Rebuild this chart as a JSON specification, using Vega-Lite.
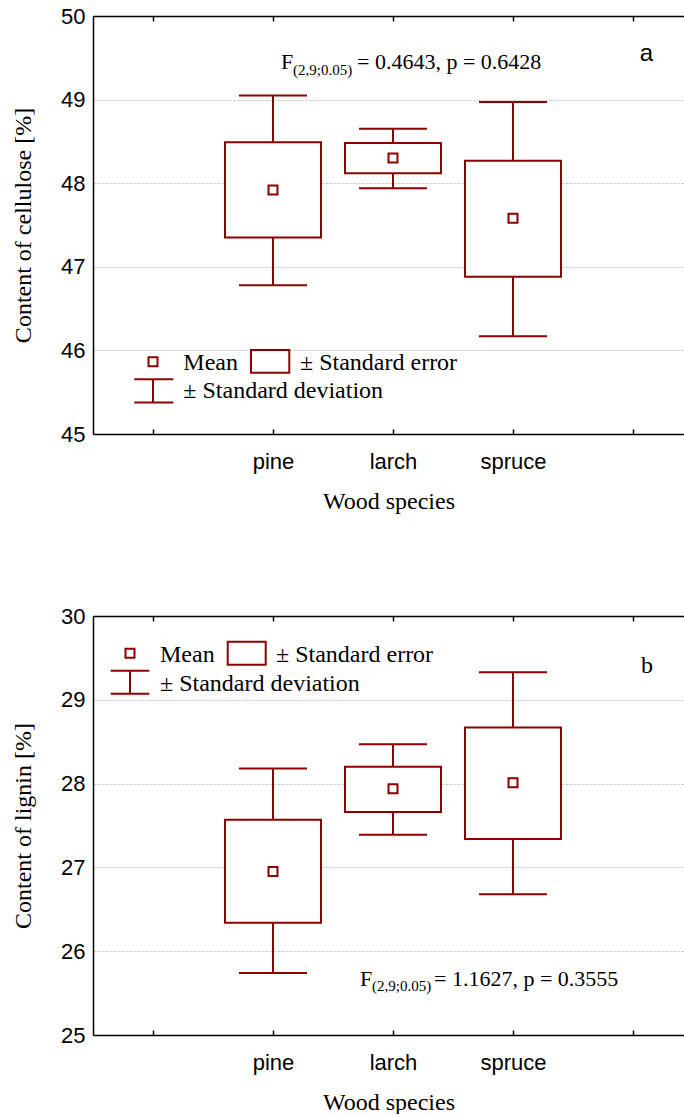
{
  "$schema": "https://vega.github.io/schema/vega-lite/v6.json",
  "padding": {"left": 11, "top": 5, "right": 0, "bottom": 0},
  "background": "white",
  "config": {
    "view": {"stroke": null},
    "axis": {"labelFont": "Liberation Sans", "labelFontSize": 22, "labelColor": "#000", "titleFont": "Liberation Serif", "titleFontSize": 24, "titleFontWeight": "normal", "titleColor": "#000", "domainColor": "#000", "domainWidth": 1.5, "tickColor": "#000", "tickWidth": 1.5},
    "axisY": {"tickCount": 5, "grid": true, "gridDash": [2, 2], "gridColor": "#bdbdbd", "gridWidth": 1, "ticks": false, "labelPadding": 8, "titlePadding": 25}
  },
  "datasets": {
    "cellulose": [
      {"species": "pine", "mean": 47.92, "se_low": 47.35, "se_high": 48.49, "sd_low": 46.78, "sd_high": 49.05},
      {"species": "larch", "mean": 48.30, "se_low": 48.12, "se_high": 48.48, "sd_low": 47.94, "sd_high": 48.65},
      {"species": "spruce", "mean": 47.58, "se_low": 46.88, "se_high": 48.27, "sd_low": 46.17, "sd_high": 48.97}
    ],
    "lignin": [
      {"species": "pine", "mean": 26.95, "se_low": 26.34, "se_high": 27.57, "sd_low": 25.74, "sd_high": 28.18},
      {"species": "larch", "mean": 27.94, "se_low": 27.66, "se_high": 28.20, "sd_low": 27.39, "sd_high": 28.47},
      {"species": "spruce", "mean": 28.01, "se_low": 27.34, "se_high": 28.67, "sd_low": 26.68, "sd_high": 29.33}
    ]
  },
  "spacing": 92,
  "vconcat": [
    {
      "width": 591,
      "height": 418,
      "resolve": {"scale": {"x": "independent"}, "axis": {"x": "independent"}},
      "layer": [
        {
          "data": {"name": "cellulose"},
          "encoding": {
            "x": {"field": "species", "type": "nominal", "scale": {"type": "point", "domain": ["_0", "pine", "larch", "spruce", "_4"], "padding": 0.4625, "align": 0.5405}, "axis": {"orient": "bottom", "labelExpr": "indexof(datum.value, '_') == 0 ? '' : datum.value", "labelAngle": 0, "tickSize": -5, "labelPadding": 22, "title": "Wood species", "titlePadding": 17, "grid": false}}
          },
          "layer": [
            {"mark": {"type": "rule", "color": "#8b0000", "strokeWidth": 2},
             "encoding": {"y": {"field": "sd_low", "type": "quantitative", "scale": {"domain": [45, 50], "nice": false, "zero": false}, "axis": {"title": "Content of cellulose [%]"}}, "y2": {"field": "sd_high"}}},
            {"mark": {"type": "tick", "color": "#8b0000", "size": 68, "thickness": 2, "opacity": 1},
             "encoding": {"y": {"field": "sd_high", "type": "quantitative"}}},
            {"mark": {"type": "tick", "color": "#8b0000", "size": 68, "thickness": 2, "opacity": 1},
             "encoding": {"y": {"field": "sd_low", "type": "quantitative"}}},
            {"mark": {"type": "bar", "width": 96, "fill": "white", "stroke": "#8b0000", "strokeWidth": 2},
             "encoding": {"y": {"field": "se_low", "type": "quantitative"}, "y2": {"field": "se_high"}}},
            {"mark": {"type": "point", "shape": "square", "size": 81, "filled": false, "color": "#8b0000", "strokeWidth": 2, "opacity": 1},
             "encoding": {"y": {"field": "mean", "type": "quantitative"}}}
          ]
        },
        {
          "data": {"values": [{}]},
          "layer": [
            {"mark": {"type": "point", "shape": "square", "size": 81, "filled": false, "color": "#8b0000", "strokeWidth": 2, "opacity": 1},
             "encoding": {"x": {"datum": 0.0, "type": "quantitative", "scale": {"domain": [-0.5, 4.425], "nice": false, "zero": false}, "axis": {"orient": "top", "values": [0, 1, 2, 3, 4], "labels": false, "tickSize": -5, "title": null, "grid": false}},
                          "y": {"datum": 45.865, "type": "quantitative", "scale": {"domain": [45, 50], "nice": false, "zero": false}}}},
            {"mark": {"type": "text", "text": "Mean", "align": "left", "baseline": "alphabetic", "font": "Liberation Serif", "fontSize": 24, "color": "#000"},
             "encoding": {"x": {"datum": 0.2525, "type": "quantitative", "scale": {"domain": [-0.5, 4.425], "nice": false, "zero": false}, "axis": {"orient": "top", "values": [0, 1, 2, 3, 4], "labels": false, "tickSize": -5, "title": null, "grid": false}},
                          "y": {"datum": 45.766, "type": "quantitative", "scale": {"domain": [45, 50], "nice": false, "zero": false}}}},
            {"mark": {"type": "rect", "fill": "white", "stroke": "#8b0000", "strokeWidth": 2},
             "encoding": {"x": {"datum": 0.8167, "type": "quantitative", "scale": {"domain": [-0.5, 4.425], "nice": false, "zero": false}, "axis": {"orient": "top", "values": [0, 1, 2, 3, 4], "labels": false, "tickSize": -5, "title": null, "grid": false}}, "x2": {"datum": 1.1358},
                          "y": {"datum": 46.005, "type": "quantitative", "scale": {"domain": [45, 50], "nice": false, "zero": false}}, "y2": {"datum": 45.733}}},
            {"mark": {"type": "text", "text": "± Standard error", "align": "left", "baseline": "alphabetic", "font": "Liberation Serif", "fontSize": 24, "color": "#000"},
             "encoding": {"x": {"datum": 1.225, "type": "quantitative", "scale": {"domain": [-0.5, 4.425], "nice": false, "zero": false}, "axis": {"orient": "top", "values": [0, 1, 2, 3, 4], "labels": false, "tickSize": -5, "title": null, "grid": false}},
                          "y": {"datum": 45.766, "type": "quantitative", "scale": {"domain": [45, 50], "nice": false, "zero": false}}}},
            {"mark": {"type": "rule", "color": "#8b0000", "strokeWidth": 2},
             "encoding": {"x": {"datum": 0.0, "type": "quantitative", "scale": {"domain": [-0.5, 4.425], "nice": false, "zero": false}, "axis": {"orient": "top", "values": [0, 1, 2, 3, 4], "labels": false, "tickSize": -5, "title": null, "grid": false}},
                          "y": {"datum": 45.654, "type": "quantitative", "scale": {"domain": [45, 50], "nice": false, "zero": false}}, "y2": {"datum": 45.378}}},
            {"mark": {"type": "rule", "color": "#8b0000", "strokeWidth": 2},
             "encoding": {"x": {"datum": -0.156, "type": "quantitative", "scale": {"domain": [-0.5, 4.425], "nice": false, "zero": false}, "axis": {"orient": "top", "values": [0, 1, 2, 3, 4], "labels": false, "tickSize": -5, "title": null, "grid": false}}, "x2": {"datum": 0.169},
                          "y": {"datum": 45.654, "type": "quantitative", "scale": {"domain": [45, 50], "nice": false, "zero": false}}}},
            {"mark": {"type": "rule", "color": "#8b0000", "strokeWidth": 2},
             "encoding": {"x": {"datum": -0.156, "type": "quantitative", "scale": {"domain": [-0.5, 4.425], "nice": false, "zero": false}, "axis": {"orient": "top", "values": [0, 1, 2, 3, 4], "labels": false, "tickSize": -5, "title": null, "grid": false}}, "x2": {"datum": 0.169},
                          "y": {"datum": 45.378, "type": "quantitative", "scale": {"domain": [45, 50], "nice": false, "zero": false}}}},
            {"mark": {"type": "text", "text": "± Standard deviation", "align": "left", "baseline": "alphabetic", "font": "Liberation Serif", "fontSize": 24, "color": "#000"},
             "encoding": {"x": {"datum": 0.2525, "type": "quantitative", "scale": {"domain": [-0.5, 4.425], "nice": false, "zero": false}, "axis": {"orient": "top", "values": [0, 1, 2, 3, 4], "labels": false, "tickSize": -5, "title": null, "grid": false}},
                          "y": {"datum": 45.427, "type": "quantitative", "scale": {"domain": [45, 50], "nice": false, "zero": false}}}},
            {"mark": {"type": "text", "text": "F", "align": "left", "baseline": "alphabetic", "font": "Liberation Serif", "fontSize": 22, "color": "#000"},
             "encoding": {"x": {"datum": 1.0667, "type": "quantitative", "scale": {"domain": [-0.5, 4.425], "nice": false, "zero": false}, "axis": {"orient": "top", "values": [0, 1, 2, 3, 4], "labels": false, "tickSize": -5, "title": null, "grid": false}},
                          "y": {"datum": 49.362, "type": "quantitative", "scale": {"domain": [45, 50], "nice": false, "zero": false}}}},
            {"mark": {"type": "text", "text": "(2,9;0.05)", "align": "left", "baseline": "alphabetic", "font": "Liberation Serif", "fontSize": 15, "color": "#000"},
             "encoding": {"x": {"datum": 1.1667, "type": "quantitative", "scale": {"domain": [-0.5, 4.425], "nice": false, "zero": false}, "axis": {"orient": "top", "values": [0, 1, 2, 3, 4], "labels": false, "tickSize": -5, "title": null, "grid": false}},
                          "y": {"datum": 49.30, "type": "quantitative", "scale": {"domain": [45, 50], "nice": false, "zero": false}}}},
            {"mark": {"type": "text", "text": "= 0.4643, p = 0.6428", "align": "left", "baseline": "alphabetic", "font": "Liberation Serif", "fontSize": 22, "color": "#000"},
             "encoding": {"x": {"datum": 1.7, "type": "quantitative", "scale": {"domain": [-0.5, 4.425], "nice": false, "zero": false}, "axis": {"orient": "top", "values": [0, 1, 2, 3, 4], "labels": false, "tickSize": -5, "title": null, "grid": false}},
                          "y": {"datum": 49.362, "type": "quantitative", "scale": {"domain": [45, 50], "nice": false, "zero": false}}}},
            {"mark": {"type": "text", "text": "a", "align": "center", "baseline": "alphabetic", "font": "Liberation Sans", "fontSize": 24, "color": "#000"},
             "encoding": {"x": {"datum": 4.1125, "type": "quantitative", "scale": {"domain": [-0.5, 4.425], "nice": false, "zero": false}, "axis": {"orient": "top", "values": [0, 1, 2, 3, 4], "labels": false, "tickSize": -5, "title": null, "grid": false}},
                          "y": {"datum": 49.462, "type": "quantitative", "scale": {"domain": [45, 50], "nice": false, "zero": false}}}}
          ]
        }
      ]
    },
    {
      "width": 591,
      "height": 419,
      "resolve": {"scale": {"x": "independent"}, "axis": {"x": "independent"}},
      "layer": [
        {
          "data": {"name": "lignin"},
          "encoding": {
            "x": {"field": "species", "type": "nominal", "scale": {"type": "point", "domain": ["_0", "pine", "larch", "spruce", "_4"], "padding": 0.4625, "align": 0.5405}, "axis": {"orient": "bottom", "labelExpr": "indexof(datum.value, '_') == 0 ? '' : datum.value", "labelAngle": 0, "tickSize": -5, "labelPadding": 22, "title": "Wood species", "titlePadding": 17, "grid": false}}
          },
          "layer": [
            {"mark": {"type": "rule", "color": "#8b0000", "strokeWidth": 2},
             "encoding": {"y": {"field": "sd_low", "type": "quantitative", "scale": {"domain": [25, 30], "nice": false, "zero": false}, "axis": {"title": "Content of lignin [%]"}}, "y2": {"field": "sd_high"}}},
            {"mark": {"type": "tick", "color": "#8b0000", "size": 68, "thickness": 2, "opacity": 1},
             "encoding": {"y": {"field": "sd_high", "type": "quantitative"}}},
            {"mark": {"type": "tick", "color": "#8b0000", "size": 68, "thickness": 2, "opacity": 1},
             "encoding": {"y": {"field": "sd_low", "type": "quantitative"}}},
            {"mark": {"type": "bar", "width": 96, "fill": "white", "stroke": "#8b0000", "strokeWidth": 2},
             "encoding": {"y": {"field": "se_low", "type": "quantitative"}, "y2": {"field": "se_high"}}},
            {"mark": {"type": "point", "shape": "square", "size": 81, "filled": false, "color": "#8b0000", "strokeWidth": 2, "opacity": 1},
             "encoding": {"y": {"field": "mean", "type": "quantitative"}}}
          ]
        },
        {
          "data": {"values": [{}]},
          "layer": [
            {"mark": {"type": "point", "shape": "square", "size": 81, "filled": false, "color": "#8b0000", "strokeWidth": 2, "opacity": 1},
             "encoding": {"x": {"datum": -0.1917, "type": "quantitative", "scale": {"domain": [-0.5, 4.425], "nice": false, "zero": false}, "axis": {"orient": "top", "values": [0, 1, 2, 3, 4], "labels": false, "tickSize": -5, "title": null, "grid": false}},
                          "y": {"datum": 29.555, "type": "quantitative", "scale": {"domain": [25, 30], "nice": false, "zero": false}}}},
            {"mark": {"type": "text", "text": "Mean", "align": "left", "baseline": "alphabetic", "font": "Liberation Serif", "fontSize": 24, "color": "#000"},
             "encoding": {"x": {"datum": 0.0583, "type": "quantitative", "scale": {"domain": [-0.5, 4.425], "nice": false, "zero": false}, "axis": {"orient": "top", "values": [0, 1, 2, 3, 4], "labels": false, "tickSize": -5, "title": null, "grid": false}},
                          "y": {"datum": 29.447, "type": "quantitative", "scale": {"domain": [25, 30], "nice": false, "zero": false}}}},
            {"mark": {"type": "rect", "fill": "white", "stroke": "#8b0000", "strokeWidth": 2},
             "encoding": {"x": {"datum": 0.6225, "type": "quantitative", "scale": {"domain": [-0.5, 4.425], "nice": false, "zero": false}, "axis": {"orient": "top", "values": [0, 1, 2, 3, 4], "labels": false, "tickSize": -5, "title": null, "grid": false}}, "x2": {"datum": 0.9392},
                          "y": {"datum": 29.693, "type": "quantitative", "scale": {"domain": [25, 30], "nice": false, "zero": false}}, "y2": {"datum": 29.419}}},
            {"mark": {"type": "text", "text": "± Standard error", "align": "left", "baseline": "alphabetic", "font": "Liberation Serif", "fontSize": 24, "color": "#000"},
             "encoding": {"x": {"datum": 1.025, "type": "quantitative", "scale": {"domain": [-0.5, 4.425], "nice": false, "zero": false}, "axis": {"orient": "top", "values": [0, 1, 2, 3, 4], "labels": false, "tickSize": -5, "title": null, "grid": false}},
                          "y": {"datum": 29.447, "type": "quantitative", "scale": {"domain": [25, 30], "nice": false, "zero": false}}}},
            {"mark": {"type": "rule", "color": "#8b0000", "strokeWidth": 2},
             "encoding": {"x": {"datum": -0.1917, "type": "quantitative", "scale": {"domain": [-0.5, 4.425], "nice": false, "zero": false}, "axis": {"orient": "top", "values": [0, 1, 2, 3, 4], "labels": false, "tickSize": -5, "title": null, "grid": false}},
                          "y": {"datum": 29.347, "type": "quantitative", "scale": {"domain": [25, 30], "nice": false, "zero": false}}, "y2": {"datum": 29.073}}},
            {"mark": {"type": "rule", "color": "#8b0000", "strokeWidth": 2},
             "encoding": {"x": {"datum": -0.3525, "type": "quantitative", "scale": {"domain": [-0.5, 4.425], "nice": false, "zero": false}, "axis": {"orient": "top", "values": [0, 1, 2, 3, 4], "labels": false, "tickSize": -5, "title": null, "grid": false}}, "x2": {"datum": -0.0308},
                          "y": {"datum": 29.347, "type": "quantitative", "scale": {"domain": [25, 30], "nice": false, "zero": false}}}},
            {"mark": {"type": "rule", "color": "#8b0000", "strokeWidth": 2},
             "encoding": {"x": {"datum": -0.3525, "type": "quantitative", "scale": {"domain": [-0.5, 4.425], "nice": false, "zero": false}, "axis": {"orient": "top", "values": [0, 1, 2, 3, 4], "labels": false, "tickSize": -5, "title": null, "grid": false}}, "x2": {"datum": -0.0308},
                          "y": {"datum": 29.073, "type": "quantitative", "scale": {"domain": [25, 30], "nice": false, "zero": false}}}},
            {"mark": {"type": "text", "text": "± Standard deviation", "align": "left", "baseline": "alphabetic", "font": "Liberation Serif", "fontSize": 24, "color": "#000"},
             "encoding": {"x": {"datum": 0.0583, "type": "quantitative", "scale": {"domain": [-0.5, 4.425], "nice": false, "zero": false}, "axis": {"orient": "top", "values": [0, 1, 2, 3, 4], "labels": false, "tickSize": -5, "title": null, "grid": false}},
                          "y": {"datum": 29.109, "type": "quantitative", "scale": {"domain": [25, 30], "nice": false, "zero": false}}}},
            {"mark": {"type": "text", "text": "F", "align": "left", "baseline": "alphabetic", "font": "Liberation Serif", "fontSize": 22, "color": "#000"},
             "encoding": {"x": {"datum": 1.725, "type": "quantitative", "scale": {"domain": [-0.5, 4.425], "nice": false, "zero": false}, "axis": {"orient": "top", "values": [0, 1, 2, 3, 4], "labels": false, "tickSize": -5, "title": null, "grid": false}},
                          "y": {"datum": 25.588, "type": "quantitative", "scale": {"domain": [25, 30], "nice": false, "zero": false}}}},
            {"mark": {"type": "text", "text": "(2,9;0.05)", "align": "left", "baseline": "alphabetic", "font": "Liberation Serif", "fontSize": 15, "color": "#000"},
             "encoding": {"x": {"datum": 1.825, "type": "quantitative", "scale": {"domain": [-0.5, 4.425], "nice": false, "zero": false}, "axis": {"orient": "top", "values": [0, 1, 2, 3, 4], "labels": false, "tickSize": -5, "title": null, "grid": false}},
                          "y": {"datum": 25.525, "type": "quantitative", "scale": {"domain": [25, 30], "nice": false, "zero": false}}}},
            {"mark": {"type": "text", "text": "= 1.1627, p = 0.3555", "align": "left", "baseline": "alphabetic", "font": "Liberation Serif", "fontSize": 22, "color": "#000"},
             "encoding": {"x": {"datum": 2.342, "type": "quantitative", "scale": {"domain": [-0.5, 4.425], "nice": false, "zero": false}, "axis": {"orient": "top", "values": [0, 1, 2, 3, 4], "labels": false, "tickSize": -5, "title": null, "grid": false}},
                          "y": {"datum": 25.588, "type": "quantitative", "scale": {"domain": [25, 30], "nice": false, "zero": false}}}},
            {"mark": {"type": "text", "text": "b", "align": "center", "baseline": "alphabetic", "font": "Liberation Serif", "fontSize": 24, "color": "#000"},
             "encoding": {"x": {"datum": 4.1167, "type": "quantitative", "scale": {"domain": [-0.5, 4.425], "nice": false, "zero": false}, "axis": {"orient": "top", "values": [0, 1, 2, 3, 4], "labels": false, "tickSize": -5, "title": null, "grid": false}},
                          "y": {"datum": 29.32, "type": "quantitative", "scale": {"domain": [25, 30], "nice": false, "zero": false}}}}
          ]
        }
      ]
    }
  ]
}
